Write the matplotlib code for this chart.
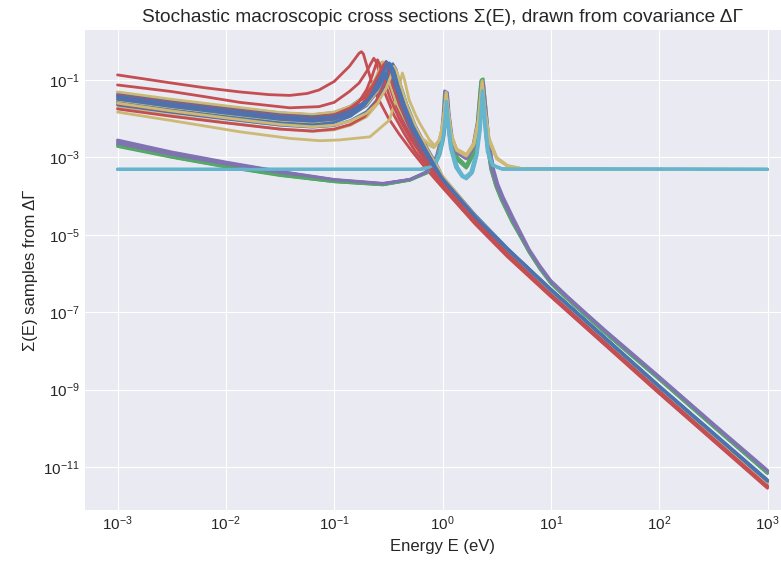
import numpy as np
import matplotlib
matplotlib.use('Agg')
import matplotlib.pyplot as plt

# (log10 E, log10 Sigma) points, one list per sample
red_curves = [
    [(-3,-0.87),(-2.5,-1.08),(-2.2,-1.2),(-1.87,-1.31),(-1.6,-1.38),(-1.41,-1.4),(-1.25,-1.35),(-1.14,-1.26),(-1.0,-1.04),(-0.86,-0.65),(-0.77,-0.31),(-0.748,-0.27),(-0.73,-0.33),(-0.7,-0.62),(-0.66,-1.0),(-0.6,-1.45),(-0.5,-1.98),(-0.4,-2.4),(-0.28,-2.85),(-0.15,-3.3),(0,-3.78),(0.3,-4.72),(0.6,-5.57),(1,-6.6),(2,-9.1),(3,-11.55)],
    [(-3,-1.13),(-2.5,-1.3),(-2.2,-1.43),(-1.87,-1.58),(-1.41,-1.72),(-1.14,-1.69),(-1.0,-1.58),(-0.86,-1.3),(-0.77,-1.08),(-0.7,-0.78),(-0.66,-0.57),(-0.634,-0.44),(-0.61,-0.55),(-0.58,-0.85),(-0.53,-1.35),(-0.45,-1.9),(-0.35,-2.4),(-0.25,-2.85),(-0.1,-3.38),(0,-3.76),(0.3,-4.7),(0.6,-5.55),(1,-6.58),(2,-9.08),(3,-11.52)],
    [(-3,-1.5),(-2.5,-1.69),(-2,-1.86),(-1.5,-2.02),(-1.2,-2.07),(-1.0,-2.0),(-0.85,-1.85),(-0.75,-1.65),(-0.67,-1.35),(-0.62,-1.05),(-0.59,-0.78),(-0.56,-0.55),(-0.53,-0.72),(-0.49,-1.15),(-0.43,-1.65),(-0.35,-2.15),(-0.25,-2.65),(-0.12,-3.2),(0,-3.7),(0.3,-4.65),(0.6,-5.5),(1,-6.55),(2,-9.05),(3,-11.5)],
    [(-3,-1.75),(-2.5,-1.94),(-2,-2.11),(-1.5,-2.27),(-1.2,-2.32),(-1.0,-2.27),(-0.85,-2.15),(-0.72,-1.95),(-0.62,-1.6),(-0.56,-1.2),(-0.53,-0.88),(-0.5,-0.62),(-0.47,-0.8),(-0.43,-1.2),(-0.38,-1.6),(-0.3,-2.15),(-0.2,-2.75),(-0.1,-3.25),(0,-3.66),(0.3,-4.62),(0.6,-5.48),(1,-6.53),(2,-9.03),(3,-11.48)],
    [(-3,-1.62),(-2.5,-1.81),(-2,-1.98),(-1.5,-2.14),(-1.2,-2.18),(-1.0,-2.08),(-0.88,-1.9),(-0.78,-1.6),(-0.7,-1.25),(-0.65,-0.9),(-0.62,-0.65),(-0.6,-0.48),(-0.58,-0.6),(-0.54,-1.0),(-0.48,-1.5),(-0.4,-2.0),(-0.3,-2.5),(-0.18,-3.0),(0,-3.72),(0.3,-4.68),(0.6,-5.53),(1,-6.57),(2,-9.07),(3,-11.52)],
    [(-3,-1.4),(-2.5,-1.59),(-2,-1.76),(-1.5,-1.92),(-1.2,-1.97),(-1.0,-1.9),(-0.85,-1.72),(-0.72,-1.45),(-0.64,-1.12),(-0.58,-0.8),(-0.55,-0.63),(-0.53,-0.56),(-0.5,-0.72),(-0.46,-1.12),(-0.4,-1.6),(-0.32,-2.1),(-0.22,-2.65),(-0.1,-3.25),(0,-3.68),(0.3,-4.64),(0.6,-5.5),(1,-6.55),(2,-9.05),(3,-11.5)],
]

blue_curves = [
    [(-3,-1.33),(-2.5,-1.52),(-2,-1.69),(-1.5,-1.85),(-1.2,-1.9),(-1.0,-1.84),(-0.85,-1.68),(-0.72,-1.42),(-0.63,-1.1),(-0.57,-0.78),(-0.54,-0.6),(-0.52,-0.52),(-0.49,-0.66),(-0.45,-1.05),(-0.39,-1.55),(-0.3,-2.1),(-0.2,-2.65),(-0.09,-3.2),(0,-3.58),(0.3,-4.53),(0.6,-5.38),(1,-6.43),(2,-8.93),(3,-11.36)],
    [(-3,-1.45),(-2.5,-1.64),(-2,-1.81),(-1.5,-1.97),(-1.2,-2.02),(-1.0,-1.97),(-0.85,-1.83),(-0.7,-1.58),(-0.6,-1.2),(-0.54,-0.85),(-0.51,-0.65),(-0.49,-0.56),(-0.46,-0.7),(-0.42,-1.1),(-0.36,-1.6),(-0.28,-2.15),(-0.18,-2.7),(-0.08,-3.2),(0,-3.56),(0.3,-4.52),(0.6,-5.37),(1,-6.42),(2,-8.92),(3,-11.35)],
    [(-3,-1.55),(-2.5,-1.74),(-2,-1.91),(-1.5,-2.07),(-1.2,-2.12),(-1.0,-2.07),(-0.85,-1.93),(-0.7,-1.66),(-0.6,-1.3),(-0.55,-0.98),(-0.52,-0.72),(-0.5,-0.6),(-0.47,-0.75),(-0.43,-1.15),(-0.37,-1.65),(-0.29,-2.2),(-0.19,-2.72),(-0.08,-3.22),(0,-3.58),(0.3,-4.54),(0.6,-5.39),(1,-6.44),(2,-8.94),(3,-11.38)],
    [(-3,-1.65),(-2.5,-1.84),(-2,-2.01),(-1.5,-2.17),(-1.2,-2.22),(-1.0,-2.18),(-0.85,-2.05),(-0.7,-1.82),(-0.6,-1.5),(-0.53,-1.12),(-0.49,-0.8),(-0.47,-0.63),(-0.44,-0.78),(-0.4,-1.18),(-0.34,-1.7),(-0.26,-2.25),(-0.16,-2.78),(-0.06,-3.25),(0,-3.52),(0.3,-4.5),(0.6,-5.36),(1,-6.41),(2,-8.91),(3,-11.34)],
    [(-3,-1.38),(-2.5,-1.57),(-2,-1.74),(-1.5,-1.9),(-1.2,-1.95),(-1.0,-1.9),(-0.85,-1.77),(-0.7,-1.55),(-0.6,-1.27),(-0.53,-0.98),(-0.49,-0.74),(-0.46,-0.58),(-0.43,-0.72),(-0.39,-1.1),(-0.33,-1.62),(-0.25,-2.18),(-0.15,-2.72),(-0.05,-3.2),(0,-3.5),(0.3,-4.48),(0.6,-5.35),(1,-6.4),(2,-8.9),(3,-11.33)],
    [(-3,-1.6),(-2.5,-1.79),(-2,-1.96),(-1.5,-2.12),(-1.2,-2.17),(-1.0,-2.1),(-0.85,-1.94),(-0.72,-1.65),(-0.64,-1.3),(-0.58,-0.92),(-0.55,-0.7),(-0.53,-0.57),(-0.5,-0.73),(-0.46,-1.12),(-0.4,-1.62),(-0.32,-2.15),(-0.22,-2.7),(-0.1,-3.24),(0,-3.6),(0.3,-4.55),(0.6,-5.4),(1,-6.45),(2,-8.95),(3,-11.39)],
    [(-3,-1.5),(-2.5,-1.69),(-2,-1.86),(-1.5,-2.02),(-1.2,-2.07),(-1.0,-2.02),(-0.85,-1.88),(-0.71,-1.62),(-0.61,-1.25),(-0.55,-0.9),(-0.53,-0.68),(-0.51,-0.55),(-0.48,-0.7),(-0.44,-1.1),(-0.38,-1.6),(-0.3,-2.15),(-0.2,-2.68),(-0.09,-3.21),(0,-3.57),(0.3,-4.53),(0.6,-5.38),(1,-6.43),(2,-8.93),(3,-11.37)],
    [(-3,-1.42),(-2.5,-1.61),(-2,-1.78),(-1.5,-1.94),(-1.2,-1.99),(-1.0,-1.94),(-0.85,-1.8),(-0.7,-1.56),(-0.6,-1.24),(-0.53,-0.9),(-0.5,-0.7),(-0.48,-0.6),(-0.45,-0.75),(-0.41,-1.15),(-0.35,-1.65),(-0.27,-2.2),(-0.17,-2.72),(-0.07,-3.22),(0,-3.54),(0.3,-4.51),(0.6,-5.37),(1,-6.42),(2,-8.92),(3,-11.36)],
]

yellow_curves = [
    [(-3,-1.31),(-2.5,-1.5),(-2,-1.67),(-1.5,-1.84),(-1.2,-1.89),(-1.0,-1.83),(-0.85,-1.68),(-0.7,-1.43),(-0.6,-1.1),(-0.54,-0.82),(-0.51,-0.66),(-0.5,-0.6),(-0.47,-0.74),(-0.43,-1.12),(-0.37,-1.6),(-0.29,-2.15),(-0.19,-2.7),(-0.08,-3.22),(0,-3.6),(0.3,-4.56),(0.6,-5.42),(1,-6.47),(2,-8.97),(3,-11.42)],
    [(-3,-1.72),(-2.5,-1.92),(-2,-2.1),(-1.5,-2.27),(-1.2,-2.33),(-1.0,-2.29),(-0.85,-2.17),(-0.7,-1.95),(-0.6,-1.62),(-0.53,-1.2),(-0.5,-0.88),(-0.48,-0.66),(-0.45,-0.82),(-0.41,-1.22),(-0.35,-1.72),(-0.27,-2.25),(-0.17,-2.78),(-0.07,-3.25),(0,-3.55),(0.3,-4.53),(0.6,-5.4),(1,-6.46),(2,-8.96),(3,-11.42)],
    [(-3,-1.35),(-2.5,-1.54),(-2,-1.71),(-1.5,-1.87),(-1.2,-1.92),(-1.0,-1.86),(-0.85,-1.7),(-0.72,-1.42),(-0.64,-1.08),(-0.59,-0.78),(-0.57,-0.6),(-0.551,-0.53),(-0.53,-0.65),(-0.49,-1.05),(-0.43,-1.55),(-0.35,-2.0),(-0.25,-2.4),(-0.15,-2.65),(-0.08,-2.75),(-0.03,-2.55),(0.0,-2.2),(0.02,-1.75),(0.034,-1.32),(0.05,-1.75),(0.08,-2.4),(0.13,-2.78),(0.22,-2.92),(0.29,-2.62),(0.33,-2.05),(0.366,-1.02),(0.39,-1.72),(0.43,-2.5),(0.5,-3.0),(0.6,-3.21),(0.75,-3.3),(1,-3.31),(3,-3.31)],
    [(-3,-1.83),(-2.5,-2.05),(-1.87,-2.34),(-1.41,-2.51),(-1.13,-2.57),(-0.95,-2.55),(-0.67,-2.47),(-0.49,-2.04),(-0.42,-1.4),(-0.39,-1.05),(-0.37,-0.82),(-0.35,-1.0),(-0.31,-1.5),(-0.25,-1.9),(-0.21,-2.12),(-0.12,-2.55),(-0.07,-2.7),(-0.03,-2.55),(0.0,-2.2),(0.02,-1.75),(0.034,-1.35),(0.05,-1.75),(0.08,-2.4),(0.13,-2.8),(0.22,-2.95),(0.29,-2.65),(0.33,-2.1),(0.366,-1.05),(0.39,-1.75),(0.43,-2.55),(0.5,-3.02),(0.6,-3.22),(0.75,-3.3),(1,-3.31),(3,-3.31)],
    [(-3,-1.52),(-2.5,-1.71),(-2,-1.88),(-1.5,-2.04),(-1.2,-2.09),(-1.0,-2.04),(-0.85,-1.9),(-0.7,-1.63),(-0.6,-1.28),(-0.55,-0.97),(-0.52,-0.74),(-0.5,-0.62),(-0.47,-0.78),(-0.43,-1.18),(-0.37,-1.68),(-0.29,-2.15),(-0.2,-2.48),(-0.12,-2.66),(-0.07,-2.72),(-0.03,-2.55),(0.0,-2.2),(0.02,-1.78),(0.034,-1.38),(0.05,-1.8),(0.08,-2.45),(0.13,-2.82),(0.22,-2.97),(0.29,-2.68),(0.33,-2.12),(0.366,-1.08),(0.39,-1.78),(0.43,-2.58),(0.5,-3.04),(0.6,-3.23),(0.75,-3.3),(1,-3.31),(3,-3.31)],
    [(-3,-1.6),(-2.5,-1.8),(-2,-1.98),(-1.5,-2.15),(-1.2,-2.21),(-1.0,-2.17),(-0.85,-2.06),(-0.7,-1.86),(-0.6,-1.6),(-0.52,-1.22),(-0.47,-0.86),(-0.45,-0.65),(-0.42,-0.8),(-0.38,-1.2),(-0.32,-1.72),(-0.24,-2.25),(-0.14,-2.8),(-0.05,-3.22),(0,-3.48),(0.3,-4.5),(0.6,-5.38),(1,-6.44),(2,-8.94),(3,-11.4)],
]

purple_curves = [
    [(-3,-2.6),(-2.5,-2.9),(-2,-3.15),(-1.5,-3.38),(-1,-3.58),(-0.55,-3.68),(-0.3,-3.57),(-0.15,-3.38),(-0.09,-3.22),(-0.04,-2.95),(0.0,-2.5),(0.02,-1.9),(0.034,-1.3),(0.05,-1.85),(0.08,-2.5),(0.13,-2.85),(0.22,-3.0),(0.29,-2.7),(0.33,-2.1),(0.366,-1.0),(0.39,-1.7),(0.42,-2.6),(0.46,-3.3),(0.5,-3.7),(0.55,-4.05),(0.65,-4.63),(0.8,-5.4),(0.9,-5.83),(1.0,-6.2),(1.15,-6.6),(1.3,-6.98),(1.5,-7.48),(2.0,-8.68),(2.5,-9.9),(3.0,-11.1)],
    [(-3,-2.55),(-2.5,-2.86),(-2,-3.12),(-1.5,-3.36),(-1,-3.57),(-0.55,-3.67),(-0.3,-3.57),(-0.17,-3.4),(-0.1,-3.22),(-0.055,-2.95),(-0.015,-2.5),(0.005,-1.9),(0.019,-1.28),(0.035,-1.85),(0.065,-2.5),(0.115,-2.85),(0.21,-3.02),(0.28,-2.7),(0.32,-2.1),(0.352,-1.04),(0.376,-1.72),(0.406,-2.62),(0.446,-3.32),(0.49,-3.72),(0.54,-4.07),(0.64,-4.65),(0.8,-5.42),(0.9,-5.85),(1.0,-6.22),(1.15,-6.62),(1.3,-7.0),(1.5,-7.5),(2.0,-8.7),(2.5,-9.92),(3.0,-11.12)],
    [(-3,-2.64),(-2.5,-2.93),(-2,-3.18),(-1.5,-3.4),(-1,-3.6),(-0.55,-3.7),(-0.3,-3.58),(-0.14,-3.38),(-0.08,-3.2),(-0.03,-2.93),(0.012,-2.45),(0.032,-1.88),(0.046,-1.33),(0.062,-1.88),(0.092,-2.52),(0.142,-2.88),(0.23,-3.02),(0.3,-2.7),(0.342,-2.08),(0.378,-1.06),(0.402,-1.75),(0.432,-2.62),(0.472,-3.3),(0.51,-3.68),(0.56,-4.02),(0.66,-4.6),(0.8,-5.37),(0.9,-5.8),(1.0,-6.18),(1.15,-6.58),(1.3,-6.96),(1.5,-7.46),(2.0,-8.66),(2.5,-9.88),(3.0,-11.08)],
    [(-3,-2.58),(-2.5,-2.88),(-2,-3.14),(-1.5,-3.37),(-1,-3.58),(-0.55,-3.68),(-0.3,-3.57),(-0.15,-3.39),(-0.09,-3.23),(-0.04,-2.97),(0.0,-2.55),(0.02,-1.98),(0.034,-1.4),(0.05,-1.92),(0.08,-2.55),(0.13,-2.88),(0.22,-3.04),(0.29,-2.74),(0.33,-2.15),(0.366,-1.1),(0.39,-1.76),(0.42,-2.64),(0.46,-3.33),(0.5,-3.72),(0.55,-4.06),(0.65,-4.64),(0.8,-5.41),(0.9,-5.84),(1.0,-6.21),(1.15,-6.61),(1.3,-6.99),(1.5,-7.49),(2.0,-8.69),(2.5,-9.91),(3.0,-11.11)],
]

green_curves = [
    [(-3,-2.68),(-2.5,-2.97),(-2,-3.22),(-1.5,-3.45),(-1,-3.62),(-0.55,-3.7),(-0.3,-3.58),(-0.15,-3.4),(-0.09,-3.25),(-0.04,-2.98),(0.0,-2.52),(0.02,-1.95),(0.034,-1.35),(0.05,-1.9),(0.08,-2.6),(0.13,-3.0),(0.22,-3.22),(0.29,-2.85),(0.33,-2.15),(0.366,-0.98),(0.39,-1.68),(0.42,-2.62),(0.46,-3.33),(0.5,-3.73),(0.55,-4.08),(0.65,-4.66),(0.8,-5.44),(0.9,-5.87),(1.0,-6.24),(1.15,-6.64),(1.3,-7.02),(1.5,-7.52),(2.0,-8.72),(2.5,-9.94),(3.0,-11.15)],
    [(-3,-2.7),(-2.5,-2.99),(-2,-3.24),(-1.5,-3.46),(-1,-3.63),(-0.55,-3.71),(-0.3,-3.59),(-0.14,-3.4),(-0.08,-3.24),(-0.03,-2.97),(0.01,-2.5),(0.03,-1.93),(0.044,-1.33),(0.06,-1.9),(0.09,-2.6),(0.14,-3.0),(0.23,-3.24),(0.3,-2.86),(0.34,-2.15),(0.376,-0.97),(0.4,-1.68),(0.43,-2.62),(0.47,-3.33),(0.51,-3.73),(0.56,-4.08),(0.66,-4.66),(0.8,-5.44),(0.9,-5.87),(1.0,-6.24),(1.15,-6.64),(1.3,-7.02),(1.5,-7.52),(2.0,-8.72),(2.5,-9.94),(3.0,-11.15)],
    [(-3,-2.66),(-2.5,-2.95),(-2,-3.2),(-1.5,-3.44),(-1,-3.61),(-0.55,-3.7),(-0.3,-3.58),(-0.16,-3.4),(-0.1,-3.25),(-0.05,-2.98),(-0.01,-2.52),(0.01,-1.95),(0.024,-1.37),(0.04,-1.92),(0.07,-2.62),(0.12,-3.02),(0.21,-3.25),(0.28,-2.87),(0.32,-2.16),(0.356,-1.0),(0.38,-1.7),(0.41,-2.63),(0.45,-3.34),(0.49,-3.74),(0.54,-4.09),(0.64,-4.67),(0.8,-5.45),(0.9,-5.88),(1.0,-6.25),(1.15,-6.65),(1.3,-7.03),(1.5,-7.53),(2.0,-8.73),(2.5,-9.95),(3.0,-11.16)],
    [(-3,-2.72),(-2.5,-3.0),(-2,-3.25),(-1.5,-3.47),(-1,-3.63),(-0.55,-3.71),(-0.3,-3.59),(-0.15,-3.41),(-0.09,-3.26),(-0.04,-3.0),(0.0,-2.55),(0.02,-2.0),(0.034,-1.42),(0.05,-1.97),(0.08,-2.65),(0.13,-3.04),(0.22,-3.28),(0.29,-2.9),(0.33,-2.2),(0.366,-1.06),(0.39,-1.72),(0.42,-2.64),(0.46,-3.35),(0.5,-3.75),(0.55,-4.1),(0.65,-4.68),(0.8,-5.46),(0.9,-5.89),(1.0,-6.26),(1.15,-6.66),(1.3,-7.04),(1.5,-7.54),(2.0,-8.74),(2.5,-9.96),(3.0,-11.17)],
]

cyan_curves = [
    [(-3,-3.31),(-0.2,-3.31),(-0.08,-3.22),(-0.03,-2.92),(0.0,-2.55),(0.02,-2.05),(0.034,-1.55),(0.05,-2.05),(0.08,-2.75),(0.13,-3.25),(0.18,-3.48),(0.22,-3.54),(0.27,-3.4),(0.31,-2.95),(0.34,-2.3),(0.366,-1.28),(0.39,-2.0),(0.42,-2.85),(0.46,-3.2),(0.55,-3.3),(3,-3.31)],
    [(-3,-3.31),(-0.2,-3.31),(-0.07,-3.22),(-0.02,-2.92),(0.01,-2.55),(0.03,-2.05),(0.044,-1.57),(0.06,-2.05),(0.09,-2.75),(0.14,-3.25),(0.19,-3.47),(0.23,-3.52),(0.28,-3.38),(0.32,-2.95),(0.35,-2.3),(0.376,-1.3),(0.4,-2.0),(0.43,-2.85),(0.47,-3.2),(0.56,-3.3),(3,-3.31)],
    [(-3,-3.3),(-0.2,-3.3),(-0.09,-3.22),(-0.04,-2.94),(-0.008,-2.55),(0.012,-2.07),(0.026,-1.6),(0.042,-2.07),(0.072,-2.77),(0.12,-3.26),(0.17,-3.46),(0.21,-3.5),(0.26,-3.38),(0.3,-2.97),(0.33,-2.35),(0.358,-1.32),(0.382,-2.02),(0.412,-2.85),(0.452,-3.2),(0.54,-3.3),(3,-3.3)],
    [(-3,-3.31),(-0.2,-3.31),(-0.08,-3.23),(-0.03,-2.94),(0.0,-2.57),(0.02,-2.08),(0.034,-1.6),(0.05,-2.08),(0.08,-2.77),(0.13,-3.27),(0.18,-3.5),(0.22,-3.56),(0.27,-3.42),(0.31,-2.97),(0.34,-2.34),(0.366,-1.32),(0.39,-2.02),(0.42,-2.87),(0.46,-3.21),(0.55,-3.3),(3,-3.31)],
    [(-3,-3.31),(-0.2,-3.31),(-0.08,-3.22),(-0.03,-2.92),(0.005,-2.55),(0.025,-2.06),(0.039,-1.56),(0.055,-2.06),(0.085,-2.75),(0.135,-3.25),(0.185,-3.47),(0.225,-3.53),(0.275,-3.39),(0.315,-2.95),(0.345,-2.3),(0.371,-1.28),(0.395,-2.0),(0.425,-2.85),(0.465,-3.2),(0.55,-3.3),(3,-3.31)],
    [(-3,-3.31),(-0.2,-3.31),(-0.08,-3.22),(-0.03,-2.92),(0.0,-2.55),(0.02,-2.05),(0.034,-1.55),(0.05,-2.05),(0.08,-2.75),(0.13,-3.25),(0.18,-3.48),(0.22,-3.54),(0.27,-3.4),(0.31,-2.95),(0.34,-2.3),(0.366,-1.28),(0.39,-2.0),(0.42,-2.85),(0.46,-3.2),(0.55,-3.3),(3,-3.31)],
]

ytick_exps = [-1, -3, -5, -7, -9, -11]

plt.style.use('seaborn-v0_8-darkgrid')
plt.rcParams['font.family'] = ['Liberation Sans', 'DejaVu Sans']
plt.rcParams['axes.unicode_minus'] = True

fig = plt.figure(figsize=(7.81, 5.62), dpi=100)
ax = fig.add_axes([85/781, 52/562, 715/781, 480/562])

# column order of each sample -> default colour cycle
groups = [blue_curves, green_curves, red_curves, purple_curves, yellow_curves, cyan_curves]
colors = ['#4C72B0', '#55A868', '#C44E52', '#8172B2', '#CCB974', '#64B5CD']
n_samples = max(len(g) for g in groups)
for i in range(n_samples):
    for g, c in zip(groups, colors):
        if i < len(g):
            pts = np.array(g[i])
            ax.plot(10**pts[:, 0], 10**pts[:, 1], color=c, lw=2.0)

ax.set_xscale('log')
ax.set_yscale('log')
ax.set_xlim(10**-3.3, 10**3.3)
ax.set_ylim(10**-12.11, 10**0.29)
ax.set_xticks([10.0**k for k in range(-3, 4)])
ax.set_yticks([10.0**k for k in ytick_exps])
ax.minorticks_off()
ax.tick_params(labelsize=11)

ax.set_title('Stochastic macroscopic cross sections \u03a3(E), drawn from covariance \u0394\u0393', fontsize=13.8)
ax.set_xlabel('Energy E (eV)', fontsize=12)
ax.set_ylabel('\u03a3(E) samples from \u0394\u0393', fontsize=12)

fig.savefig('out.png', dpi=100)
